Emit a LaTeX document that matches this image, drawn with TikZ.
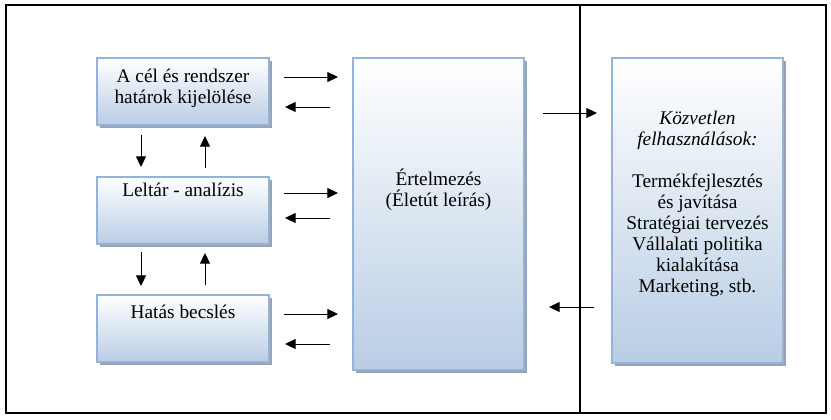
\documentclass[tikz,border=0pt]{standalone}
\usepackage{fontspec}
\setmainfont{Liberation Serif}
\usetikzlibrary{arrows.meta,shadows}
\definecolor{boxedge}{HTML}{95B3D7}
\definecolor{boxblue}{HTML}{B9CDE5}
\definecolor{shadowc}{HTML}{98A4B4}
\begin{document}
\begin{tikzpicture}[x=0.75pt,y=-0.75pt,
  box/.style={draw=boxedge, line width=1.5pt, top color=white, bottom color=boxblue,
    drop shadow={shadow xshift=2.25pt,shadow yshift=-2.25pt,fill=shadowc,opacity=1}, inner sep=0pt},
  smallbox/.style={box, minimum width=129pt, minimum height=50.25pt},
  txt/.style={font=\fontsize{14.5}{15.75}\selectfont, align=center, inner sep=0pt},
  arr/.style={-{Triangle[length=8pt,width=7.5pt]}, line width=0.75pt},
  frame/.style={line width=0.9pt}]
\useasboundingbox (0,0) rectangle (831,419);
% frame
\draw[frame] (6,5) rectangle (826,413);
\coordinate (vtop) at (580,5);
\coordinate (vbot) at (580,413);
\draw[frame] (vtop) -- (vbot);
% left boxes
\node[smallbox] (b1) at (183,91.5) {};
\node[smallbox] (b2) at (183,210.5) {};
\node[smallbox] (b3) at (183,328.5) {};
\node[txt] (t1) at (183,88) {A cél és rendszer\\határok kijelölése};
\node[txt] (t2) at (183,190) {Leltár - analízis};
\node[txt] (t3) at (183,312) {Hatás becslés};
% middle box
\node[box, minimum width=128.25pt, minimum height=234pt] (m) at (438.5,214) {};
\node[txt] (mt) at (438.5,190) {Értelmezés\\(Életút leírás)};
% right box
\node[box, minimum width=128.25pt, minimum height=228.75pt] (r) at (697.5,210.5) {};
\node[txt] (rt) at (697.5,204) {\textit{Közvetlen}\\\textit{felhasználások:}\\[15.75pt]Termékfejlesztés\\és javítása\\Stratégiai tervezés\\Vállalati politika\\kialakítása\\Marketing, stb.};
% arrow end points
\coordinate (a1s) at (284,77);  \coordinate (a1e) at (338,77);
\coordinate (c1s) at (330,107); \coordinate (c1e) at (285,107);
\coordinate (a2s) at (284,193); \coordinate (a2e) at (338,193);
\coordinate (c2s) at (330,218); \coordinate (c2e) at (285,218);
\coordinate (a3s) at (284,314); \coordinate (a3e) at (338,314);
\coordinate (c3s) at (330,344); \coordinate (c3e) at (285,344);
\coordinate (d1s) at (141,135); \coordinate (d1e) at (141,167);
\coordinate (u1s) at (205,168); \coordinate (u1e) at (205,136);
\coordinate (d2s) at (141,252); \coordinate (d2e) at (141,286);
\coordinate (u2s) at (205,285); \coordinate (u2e) at (205,253);
\coordinate (rs) at (543,113);  \coordinate (re) at (597,113);
\coordinate (ls) at (594,307);  \coordinate (le) at (549,307);
\foreach \s/\e in {a1s/a1e,c1s/c1e,a2s/a2e,c2s/c2e,a3s/a3e,c3s/c3e,d1s/d1e,u1s/u1e,d2s/d2e,u2s/u2e,rs/re,ls/le}
  \draw[arr] (\s) -- (\e);
\end{tikzpicture}
\end{document}
